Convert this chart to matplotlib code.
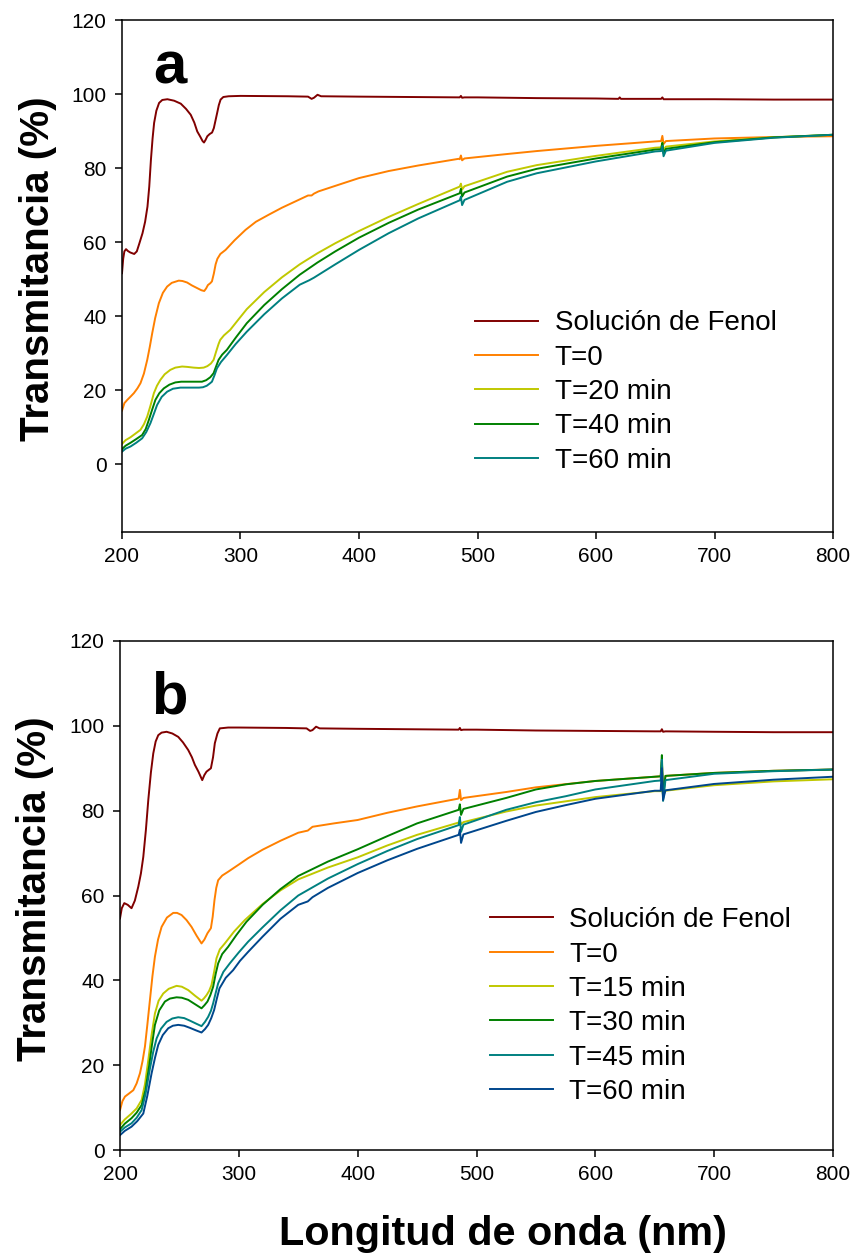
import matplotlib
matplotlib.use("Agg")
import matplotlib.pyplot as plt

plt.rcParams["font.family"] = ["Liberation Sans", "DejaVu Sans"]

# ---- panel a ------------------------------------------------------------
WL_A_FENOL = [200, 201, 202, 203.4, 205, 207, 210.3, 212.5, 214.5, 217.3, 219.5, 221.5, 223,
              224.4, 225.8, 227.1, 229, 231.3, 234, 238.3, 244, 249.6, 254, 258, 261, 263.5,
              266, 268, 269.2, 270.5, 272, 274, 276, 277.5, 279, 280.3, 281.7, 283.2, 285.5,
              290, 300, 340, 357, 360, 362, 365, 368, 400, 485, 486, 487, 489, 500, 550, 600,
              619, 620, 621, 650, 655, 656, 657, 659, 700, 750, 800]
T_A_FENOL = [51.6, 55.5, 57.5, 58.1, 57.6, 57.2, 56.8, 57.5, 59.5, 62.4, 65.5, 69.6, 75.0,
             82.2, 88.0, 92.2, 95.5, 97.6, 98.4, 98.6, 98.2, 97.4, 96.0, 94.4, 92.3, 89.9,
             88.5, 87.3, 86.9, 87.6, 88.6, 89.2, 89.6, 90.8, 93.0, 94.9, 97.0, 98.5, 99.2,
             99.4, 99.5, 99.4, 99.3, 98.7, 99.0, 99.8, 99.4, 99.3, 99.1, 99.5, 99.0, 99.1, 99.1,
             98.9, 98.8, 98.7, 99.1, 98.7, 98.7, 98.7, 99.1, 98.6, 98.6, 98.6, 98.5, 98.5]

WL_A_T0 = [200, 202, 204.5, 207, 210, 213, 215.6, 218.5, 221.3, 223.5, 225.5, 228, 231.1,
           234.5, 238.1, 242, 247.9, 251, 254.9, 259, 263.3, 267, 269.4, 271, 272.5, 274.5,
           275.9, 277.5, 279, 280.5, 283, 287.4, 295, 304.2, 313, 323.8, 335, 349, 357, 360,
           362, 365.8, 380, 400, 425, 450, 484, 485, 486, 487, 489, 525, 550, 600, 650, 655,
           656, 657, 659, 700, 750, 800]
T_A_T0 = [14.5, 16.5, 17.4, 18.2, 19.2, 20.5, 21.9, 24.5, 28.2, 31.8, 35.4, 39.5, 43.5,
          46.3, 48.0, 49.0, 49.6, 49.5, 49.1, 48.3, 47.6, 47.0, 46.8, 47.5, 48.4, 48.9,
          49.4, 51.5, 54.0, 55.5, 56.8, 57.9, 60.5, 63.3, 65.5, 67.4, 69.3, 71.4, 72.6, 72.6,
          73.1, 73.7, 75.2, 77.3, 79.2, 80.7, 82.5, 82.4, 83.4, 82.1, 82.6, 83.8, 84.6, 86.0,
          87.2, 87.3, 88.7, 86.5, 87.3, 88.0, 88.4, 88.6]

WL_A_T20 = [200, 203, 207.2, 211, 215.6, 218.5, 221.3, 224, 226.9, 229.5, 232.4, 236, 240.8,
            245, 250.7, 255, 260.5, 265, 268.9, 272, 275, 277.3, 279.5, 281.5, 282.9, 286,
            291.3, 298, 305.3, 320, 335, 350, 365, 380, 400, 425, 450, 485, 486, 487, 489,
            525, 550, 600, 650, 655, 656, 657, 659, 700, 750, 800]
T_A_T20 = [5.5, 6.5, 7.3, 8.2, 9.3, 10.8, 12.9, 15.8, 19.2, 21.2, 22.8, 24.3, 25.5,
           26.1, 26.4, 26.3, 26.1, 26.0, 26.1, 26.5, 27.2, 28.2, 30.5, 32.5, 33.6, 34.8,
           36.3, 39.0, 41.9, 46.5, 50.5, 54.0, 57.0, 59.7, 63.0, 66.8, 70.3, 75.0, 75.8, 74.2,
           75.1, 79.0, 80.8, 83.3, 85.5, 85.6, 87.0, 84.8, 85.8, 87.2, 88.3, 89.0]

WL_A_T40 = [200, 203, 207.2, 212, 217, 220, 222.7, 225.5, 228.2, 231.5, 235.3, 240, 245,
            250, 254.9, 261, 267.5, 271, 274.5, 277.3, 279.5, 281.5, 284.5, 288.5, 296, 305.3,
            320, 335, 350, 365, 380, 400, 425, 450, 485, 486, 487, 489, 525, 550, 600, 650,
            655, 656, 657, 659, 700, 750, 800]
T_A_T40 = [4.1, 5.0, 5.8, 6.8, 7.9, 9.5, 12.0, 14.8, 17.4, 19.2, 20.5, 21.5, 22.1,
           22.3, 22.3, 22.3, 22.3, 22.7, 23.5, 24.6, 26.5, 28.2, 29.6, 30.9, 34.2, 38.1,
           43.0, 47.3, 51.2, 54.5, 57.5, 61.2, 65.2, 68.8, 73.2, 74.4, 72.3, 73.4, 77.7, 79.8,
           82.6, 85.0, 85.1, 86.8, 84.0, 85.2, 87.0, 88.3, 89.0]

WL_A_T60 = [200, 203, 207.2, 212, 217, 220.5, 224, 227, 229.6, 233.5, 238.1, 243, 249.3,
            255, 260.5, 265, 268.3, 271.5, 274, 275.9, 278, 280.1, 283.5, 288.5, 296, 305.3,
            320, 335, 350, 358, 362, 380, 400, 425, 450, 485, 486, 487, 489, 525, 550, 600,
            650, 655, 656, 657, 659, 700, 750, 800]
T_A_T60 = [3.4, 4.2, 4.8, 5.8, 7.0, 8.7, 11.1, 13.7, 16.0, 18.2, 19.6, 20.4, 20.7,
           20.7, 20.7, 20.7, 20.8, 21.2, 21.8, 22.3, 24.0, 25.9, 27.6, 29.5, 32.5, 35.8,
           40.5, 44.8, 48.5, 49.7, 50.4, 54.0, 57.9, 62.4, 66.4, 71.3, 72.3, 70.0, 71.4, 76.3,
           78.6, 81.8, 84.5, 84.6, 86.0, 83.2, 84.7, 86.8, 88.2, 89.0]

# ---- panel b ------------------------------------------------------------
WL_B_FENOL = [200, 201.5, 203.6, 206.5, 209.7, 212.5, 215.4, 217.6, 219.6, 221.8, 223.8, 226,
              228, 230, 232.2, 235, 239.2, 244, 249, 253, 257.4, 260.5, 263, 266, 269.2, 271,
              272.8, 276.5, 278.3, 279.8, 282, 284, 291, 300, 340, 357, 360, 362, 365, 368,
              400, 485, 486, 487, 489, 500, 550, 600, 650, 655, 656, 657, 659, 700, 750, 800]
T_B_FENOL = [54.6, 57.0, 58.2, 57.8, 57.0, 58.8, 62.1, 65.2, 69.1, 75.5, 82.5, 89.0,
             93.5, 96.3, 97.8, 98.4, 98.6, 98.2, 97.4, 96.1, 94.3, 92.6, 90.8, 89.2, 87.2, 88.4,
             89.2, 90.0, 92.6, 95.9, 98.2, 99.4, 99.6, 99.6, 99.5, 99.4, 98.8, 99.0, 99.8, 99.4,
             99.3, 99.1, 99.5, 99.0, 99.1, 99.1, 98.9, 98.8, 98.7, 98.7, 99.2, 98.6, 98.7,
             98.6, 98.5, 98.5]

WL_B_T0 = [200, 202, 204.2, 207.5, 211.2, 214, 216.8, 219, 221, 223, 225.2, 227.3, 229.4,
           232, 235, 239.5, 244.8, 248, 251.8, 256, 260.2, 264.5, 268.6, 271, 273.6, 276.5,
           278, 279.5, 281, 282.6, 286, 291, 300, 307.8, 320, 335, 350, 358, 362, 380, 400,
           425, 450, 484, 485, 486, 487, 489, 525, 550, 600, 650, 655, 656, 657, 659, 700,
           750, 800]
T_B_T0 = [9.4, 11.5, 12.6, 13.3, 14.1, 15.7, 18.1, 21.0, 24.4, 29.5, 35.4, 41.0, 45.6,
          49.6, 52.6, 54.8, 55.9, 55.9, 55.4, 54.2, 52.6, 50.5, 48.7, 49.6, 51.1, 52.3,
          55.0, 58.9, 61.8, 63.6, 64.7, 65.6, 67.3, 68.8, 70.8, 72.9, 74.8, 75.3, 76.2, 77.0,
          77.8, 79.5, 81.0, 82.8, 82.9, 84.9, 82.5, 83.0, 84.4, 85.5, 87.0, 88.0, 88.1, 91.5,
          84.5, 88.2, 88.9, 89.4, 89.7]

WL_B_T15 = [200, 204, 209.7, 214, 218.2, 221, 223.8, 226.5, 229.4, 232.5, 236.4, 241, 247.6,
            252, 257.4, 263, 268.6, 270.5, 272.8, 275, 277, 279.2, 281.2, 284, 288.2, 296,
            305, 320, 335, 350, 375, 400, 425, 450, 485, 486, 487, 489, 525, 550, 600, 650,
            655, 656, 657, 659, 700, 750, 800]
T_B_T15 = [5.9, 7.2, 8.6, 9.8, 11.8, 15.5, 21.2, 27.0, 32.2, 35.2, 36.9, 38.0, 38.7,
           38.5, 37.7, 36.4, 35.2, 35.7, 36.5, 37.5, 38.9, 42.0, 45.2, 47.3, 48.7, 51.5,
           54.2, 58.0, 61.2, 63.8, 66.6, 69.0, 71.8, 74.3, 77.2, 77.8, 76.8, 77.3, 79.8, 81.2,
           83.2, 84.6, 84.6, 86.0, 83.5, 84.7, 86.0, 86.9, 87.4]

WL_B_T30 = [200, 204, 209.7, 214, 218.2, 221.5, 224.4, 227, 229.4, 233, 237.8, 242, 247.6,
            252, 257.4, 263, 268.6, 271, 273.6, 276, 278.4, 280.5, 282.6, 286, 291, 298,
            306.4, 320, 335, 350, 375, 400, 425, 450, 485, 486, 487, 489, 525, 550, 575, 600,
            650, 655, 656, 657, 659, 700, 750, 800]
T_B_T30 = [4.9, 6.2, 7.5, 8.8, 10.6, 14.2, 19.6, 25.0, 29.5, 32.9, 35.0, 35.7, 36.0,
           35.9, 35.4, 34.4, 33.4, 34.1, 35.0, 36.5, 38.5, 41.5, 44.0, 46.2, 47.9, 50.7,
           53.8, 57.8, 61.5, 64.6, 68.0, 70.9, 74.0, 77.0, 80.2, 81.5, 79.0, 80.4, 83.0, 85.0,
           86.2, 87.0, 88.0, 88.1, 93.1, 83.0, 88.2, 88.9, 89.4, 89.7]

WL_B_T45 = [200, 204, 209.7, 214, 218.2, 221.5, 225, 228, 230.8, 234.5, 239.2, 244, 249,
            254, 258.8, 264, 268.6, 271.5, 274.2, 276.5, 278.4, 280.5, 282.6, 287, 292.4, 300,
            307.8, 320, 335, 350, 375, 400, 425, 450, 485, 486, 487, 489, 525, 550, 575, 600,
            650, 655, 656, 657, 659, 700, 750, 800]
T_B_T45 = [4.3, 5.3, 6.3, 7.6, 9.4, 13.2, 18.9, 23.2, 26.3, 28.6, 30.2, 31.0, 31.3,
           31.1, 30.5, 29.8, 29.2, 30.2, 31.4, 32.8, 34.6, 37.0, 39.3, 42.0, 44.0, 46.6,
           49.1, 52.5, 56.5, 60.0, 64.0, 67.4, 70.5, 73.3, 76.6, 78.5, 75.0, 76.7, 80.2, 82.0,
           83.4, 85.0, 87.0, 87.1, 92.0, 82.3, 87.2, 88.7, 89.3, 89.7]

WL_B_T60 = [200, 204, 209.7, 214.5, 219.6, 223, 226.6, 229.5, 232.2, 236, 240.6, 244.5, 249,
            254, 258.8, 264, 268.6, 271.5, 274.2, 276.8, 279.2, 281.5, 283.7, 289, 295.2, 301,
            307.8, 320, 335, 350, 358, 362, 375, 400, 425, 450, 485, 486, 487, 489, 525, 550,
            575, 600, 650, 655, 656, 657, 659, 700, 750, 800]
T_B_T60 = [3.5, 4.5, 5.5, 6.8, 8.6, 12.8, 18.1, 21.8, 24.8, 27.1, 28.7, 29.3, 29.5,
           29.3, 28.8, 28.2, 27.7, 28.5, 29.5, 31.1, 33.0, 35.7, 38.1, 40.6, 42.4, 44.6,
           46.7, 50.3, 54.5, 57.8, 58.6, 59.6, 61.8, 65.3, 68.3, 71.0, 74.3, 75.5, 72.4, 74.4,
           77.6, 79.7, 81.3, 82.8, 84.7, 84.7, 90.0, 82.5, 84.8, 86.3, 87.3, 88.0]

C_FENOL = "#800000"
C_T0 = "#FF8000"
C_YEL = "#C0C800"
C_GRN = "#008000"
C_TEAL = "#008080"
C_NAVY = "#00468C"

series_a = [(WL_A_FENOL, T_A_FENOL, "Solución de Fenol", C_FENOL),
            (WL_A_T0, T_A_T0, "T=0", C_T0),
            (WL_A_T20, T_A_T20, "T=20 min", C_YEL),
            (WL_A_T40, T_A_T40, "T=40 min", C_GRN),
            (WL_A_T60, T_A_T60, "T=60 min", C_TEAL)]
series_b = [(WL_B_FENOL, T_B_FENOL, "Solución de Fenol", C_FENOL),
            (WL_B_T0, T_B_T0, "T=0", C_T0),
            (WL_B_T15, T_B_T15, "T=15 min", C_YEL),
            (WL_B_T30, T_B_T30, "T=30 min", C_GRN),
            (WL_B_T45, T_B_T45, "T=45 min", C_TEAL),
            (WL_B_T60, T_B_T60, "T=60 min", C_NAVY)]

W, H = 859, 1256
fig = plt.figure(figsize=(W / 100, H / 100), dpi=100)
ax_a = fig.add_axes([122 / W, 1 - 532 / H, 711 / W, 512 / H])
ax_b = fig.add_axes([120 / W, 1 - 1150 / H, 713 / W, 509 / H])

for ax, series, ylim, letter, leg_anchor in (
        (ax_a, series_a, (-18.3, 120), "a", (0.497, 0.433)),
        (ax_b, series_b, (0, 120), "b", (0.519, 0.477))):
    for wl, t, lab, col in series:
        ax.plot(wl, t, color=col, lw=1.4, label=lab)
    ax.set_xlim(200, 800)
    ax.set_ylim(*ylim)
    ax.set_xticks(range(200, 801, 100))
    ax.set_yticks(range(0, 121, 20))
    ax.tick_params(direction="out", length=5, width=1.1, labelsize=15, pad=6,
                   top=False, right=False)
    for s in ax.spines.values():
        s.set_linewidth(1.1)
    ax.set_ylabel("Transmitancia (%)", fontsize=29, fontweight="bold")
    ax.yaxis.set_label_coords(-0.092, 0.514)
    ax.text(226, 102.8, letter, fontsize=43, fontweight="bold", ha="left", va="baseline")
    ax.legend(loc="upper left", bbox_to_anchor=leg_anchor, frameon=False, fontsize=20,
              handlelength=2.27, handletextpad=0.58, labelspacing=0.30,
              borderpad=0, borderaxespad=0)

ax_b.set_xlabel("Longitud de onda (nm)", fontsize=29.8, fontweight="bold")
ax_b.xaxis.set_label_coords(0.537, -0.128)

fig.savefig("out.png", dpi=100)
